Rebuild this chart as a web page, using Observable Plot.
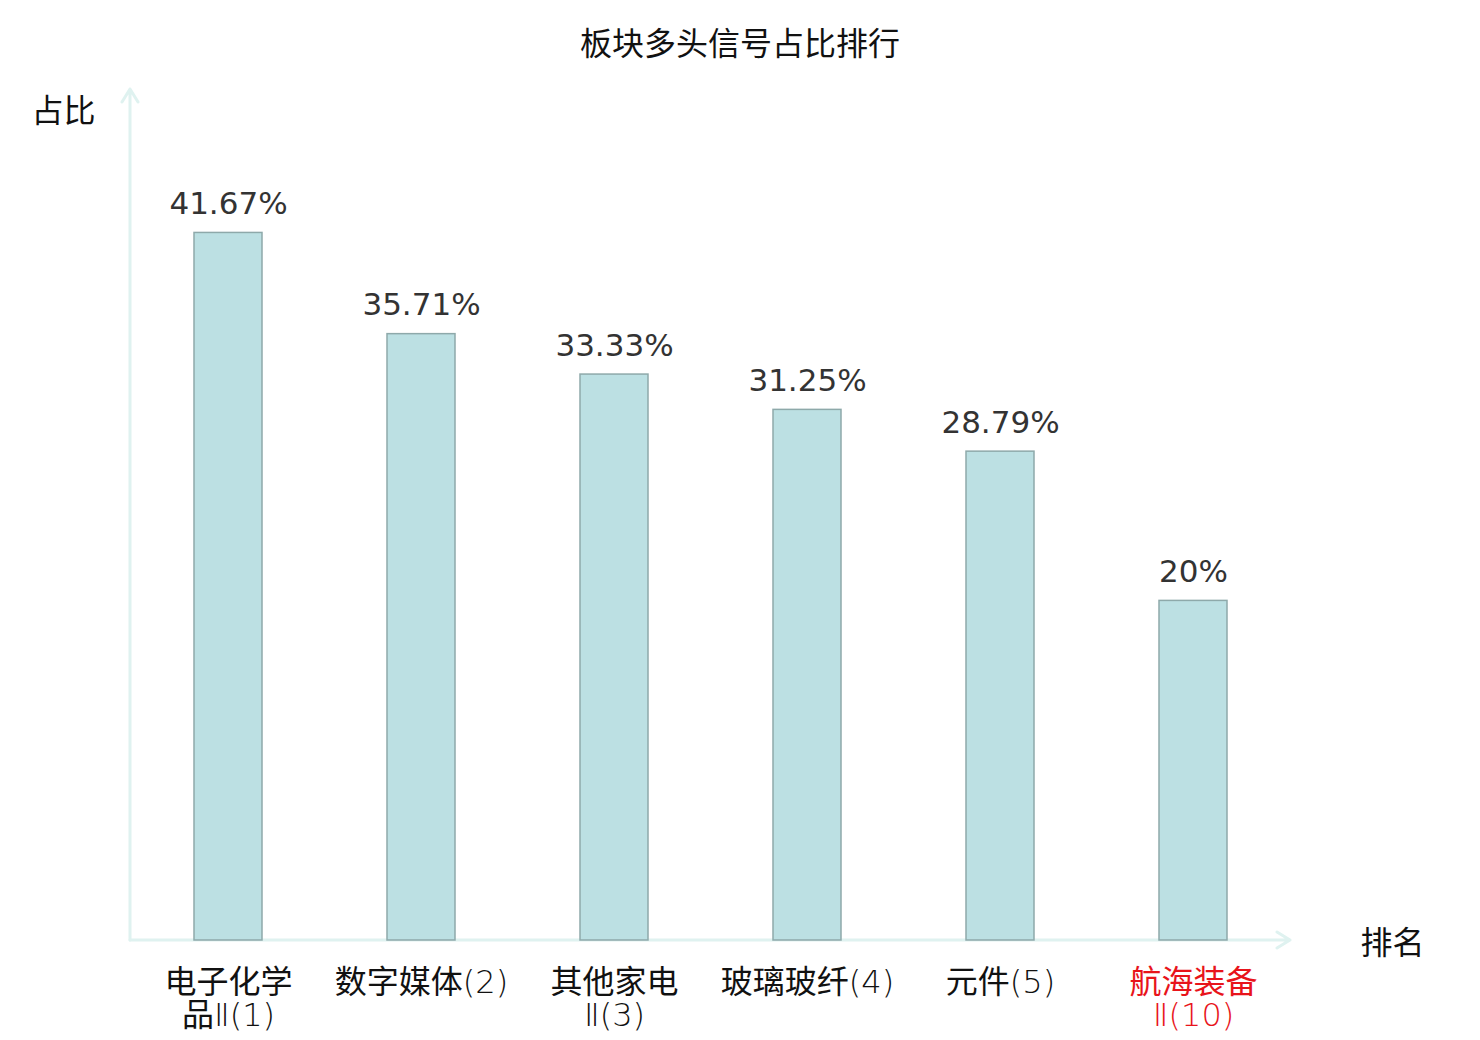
<!DOCTYPE html>
<html><head><meta charset="utf-8">
<script src="https://cdn.jsdelivr.net/npm/d3@7"></script>
<script src="https://cdn.jsdelivr.net/npm/@observablehq/plot@0.6"></script>
<style>
body{margin:0;background:#fff;width:1480px;height:1040px;overflow:hidden;position:relative;font-family:"Noto Sans CJK SC",sans-serif}
#title{position:absolute;top:20px;left:0;width:1480px;text-align:center;font-size:32px;line-height:42px;color:#111;}
#chart{position:absolute;top:0;left:0}
</style></head><body>
<div id="title">板块多头信号占比排行</div>
<div id="chart"></div>
<script>
const categories = ["电子化学品Ⅱ(1)", "数字媒体(2)", "其他家电Ⅱ(3)", "玻璃玻纤(4)", "元件(5)", "航海装备Ⅱ(10)"];
const tickLabels = ["电子化学\n品Ⅱ(1)", "数字媒体(2)", "其他家电\nⅡ(3)", "玻璃玻纤(4)", "元件(5)", "航海装备\nⅡ(10)"];
const values = [41.67, 35.71, 33.33, 31.25, 28.79, 20];
const valueLabels = ["41.67%", "35.71%", "33.33%", "31.25%", "28.79%", "20%"];
const highlight = [false, false, false, false, false, true];
const yAxisName = "占比";
const xAxisName = "排名";

const data = categories.map((c, i) => ({cat: c, tick: tickLabels[i], value: values[i], label: valueLabels[i], color: highlight[i] ? "#e8141b" : "#111"}));

function axesArrows(index, scales, vals, dims) {
  const {marginLeft, marginTop, marginBottom, marginRight, width, height} = dims;
  const x0 = marginLeft, x1 = width - marginRight, y0 = height - marginBottom, y1 = marginTop - 2;
  const g = d3.create("svg:g").attr("stroke", "#dff2f0").attr("stroke-width", 3)
    .attr("fill", "none").attr("stroke-linecap", "round").attr("stroke-linejoin", "round");
  g.append("path").attr("d", `M${x0},${y0}V${y1}M${x0 - 8},${y1 + 13}L${x0},${y1}L${x0 + 8},${y1 + 13}`);
  g.append("path").attr("d", `M${x0},${y0}H${x1}M${x1 - 13},${y0 - 8}L${x1},${y0}L${x1 - 13},${y0 + 8}`);
  return g.node();
}

const chart = Plot.plot({
  width: 1480, height: 1040,
  marginLeft: 130, marginRight: 190, marginTop: 91, marginBottom: 100,
  x: {domain: categories, paddingInner: 0.648, paddingOuter: 0.324, axis: null},
  y: {domain: [0, 50], axis: null},
  color: {type: "identity"},
  style: {background: "transparent", overflow: "visible"},
  marks: [
    axesArrows,
    Plot.barY(data, {x: "cat", y: "value", fill: "#bce0e3", stroke: "#8ea9aa", strokeWidth: 1.5}),
    Plot.text(data, {x: "cat", y: "value", text: "label", lineAnchor: "bottom", dy: -19, fontSize: 31, fill: "#333", fontFamily: "DejaVu Sans"}),
    Plot.text(data, {x: "cat", text: "tick", frameAnchor: "bottom", lineAnchor: "top", dy: 29, fontSize: 32, lineHeight: 1.03, fill: "color", fontFamily: "\"DejaVu Sans Light\", \"Noto Sans CJK SC\""}),
    Plot.text([yAxisName], {frameAnchor: "top-left", textAnchor: "middle", dx: -67, dy: 8, fontSize: 32, fill: "#111", fontFamily: "Noto Sans CJK SC"}),
    Plot.text([xAxisName], {frameAnchor: "bottom-right", textAnchor: "middle", dx: 102, dy: 13, fontSize: 32, fill: "#111", fontFamily: "Noto Sans CJK SC"})
  ]
});
document.getElementById("chart").append(chart);
</script>
</body></html>
